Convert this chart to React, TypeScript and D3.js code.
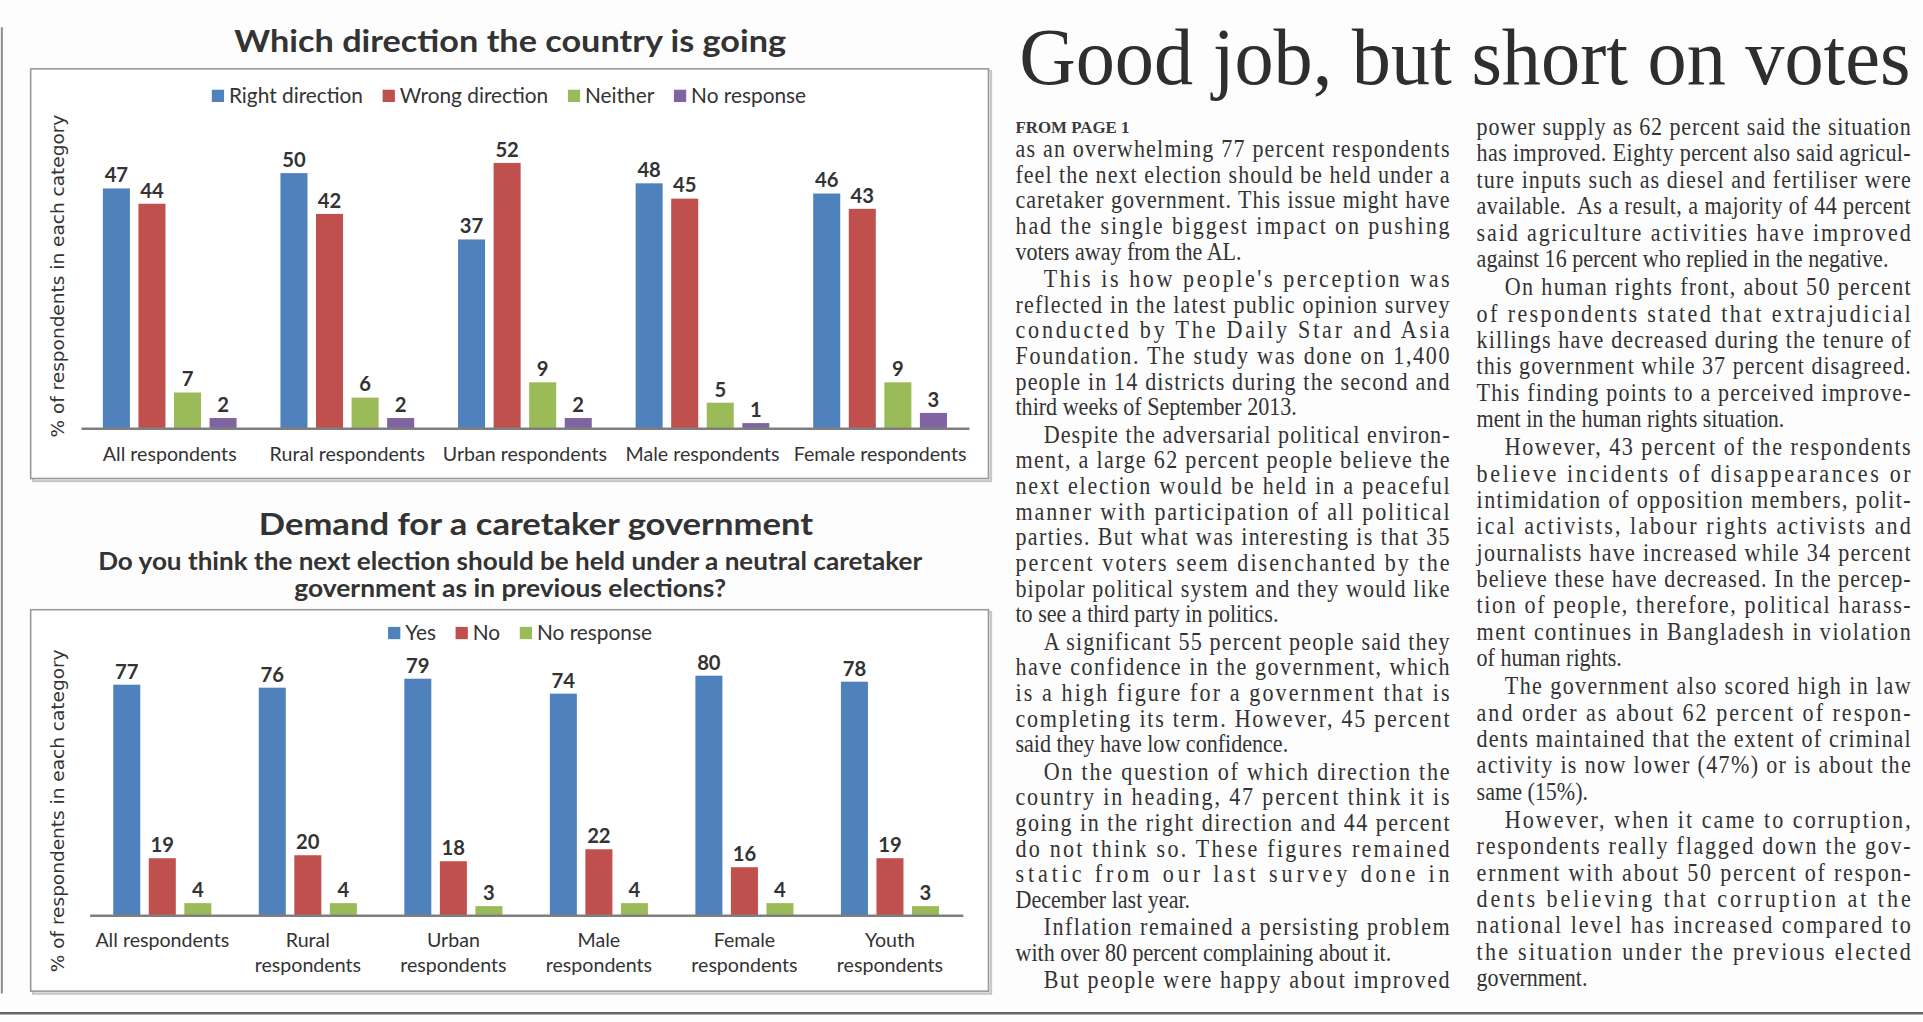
import { useEffect, useRef } from 'react';
import * as d3 from 'd3';

// ---- chart 1: which direction the country is going
const directionCategories = ['All respondents', 'Rural respondents', 'Urban respondents', 'Male respondents', 'Female respondents'];
const directionSeries = ['Right direction', 'Wrong direction', 'Neither', 'No response'];
const rightDirection = [47, 50, 37, 48, 46];
const wrongDirection = [44, 42, 52, 45, 43];
const neither = [7, 6, 9, 5, 9];
const directionNoResponse = [2, 2, 2, 1, 3];

// ---- chart 2: demand for a caretaker government
const caretakerCategories = ['All respondents', 'Rural respondents', 'Urban respondents', 'Male respondents', 'Female respondents', 'Youth respondents'];
const caretakerLabelLines = [['All respondents'], ['Rural', 'respondents'], ['Urban', 'respondents'], ['Male', 'respondents'], ['Female', 'respondents'], ['Youth', 'respondents']];
const caretakerSeries = ['Yes', 'No', 'No response'];
const yesValues = [77, 76, 79, 74, 80, 78];
const noValues = [19, 20, 18, 22, 16, 19];
const caretakerNoResponse = [4, 4, 3, 4, 4, 3];

const palette = ['#4F81BD', '#C0504D', '#9BBB59', '#8064A2'];

// ---- article text
const headline = 'Good job, but short on votes';

const column1: string[][] = [
  ['as an overwhelming 77 percent respondents', 'feel the next election should be held under a', 'caretaker government. This issue might have', 'had the single biggest impact on pushing', 'voters away from the AL.'],
  ["This is how people's perception was", 'reflected in the latest public opinion survey', 'conducted by The Daily Star and Asia', 'Foundation. The study was done on 1,400', 'people in 14 districts during the second and', 'third weeks of September 2013.'],
  ['Despite the adversarial political environ-', 'ment, a large 62 percent people believe the', 'next election would be held in a peaceful', 'manner with participation of all political', 'parties. But what was interesting is that 35', 'percent voters seem disenchanted by the', 'bipolar political system and they would like', 'to see a third party in politics.'],
  ['A significant 55 percent people said they', 'have confidence in the government, which', 'is a high figure for a government that is', 'completing its term. However, 45 percent', 'said they have low confidence.'],
  ['On the question of which direction the', 'country in heading, 47 percent think it is', 'going in the right direction and 44 percent', 'do not think so. These figures remained', 'static from our last survey done in', 'December last year.'],
  ['Inflation remained a persisting problem', 'with over 80 percent complaining about it.'],
  ['But people were happy about improved'],
];

const column2: string[][] = [
  ['power supply as 62 percent said the situation', 'has improved. Eighty percent also said agricul-', 'ture inputs such as diesel and fertiliser were', 'available.  As a result, a majority of 44 percent', 'said agriculture activities have improved', 'against 16 percent who replied in the negative.'],
  ['On human rights front, about 50 percent', 'of respondents stated that extrajudicial', 'killings have decreased during the tenure of', 'this government while 37 percent disagreed.', 'This finding points to a perceived improve-', 'ment in the human rights situation.'],
  ['However, 43 percent of the respondents', 'believe incidents of disappearances or', 'intimidation of opposition members, polit-', 'ical activists, labour rights activists and', 'journalists have increased while 34 percent', 'believe these have decreased. In the percep-', 'tion of people, therefore, political harass-', 'ment continues in Bangladesh in violation', 'of human rights.'],
  ['The government also scored high in law', 'and order as about 62 percent of respon-', 'dents maintained that the extent of criminal', 'activity is now lower (47%) or is about the', 'same (15%).'],
  ['However, when it came to corruption,', 'respondents really flagged down the gov-', 'ernment with about 50 percent of respon-', 'dents believing that corruption at the', 'national level has increased compared to', 'the situation under the previous elected', 'government.'],
];

const chartFont = 'Lato, "Open Sans", sans-serif';
const serifFont = '"Liberation Serif", "DejaVu Serif", serif';
const textColor = '#333';

type Sel = d3.Selection<SVGGElement, unknown, null, undefined>;

interface BarSpec {
  categories: string[];
  labelLines: string[][];
  series: string[];
  values: number[][];
  xRange: [number, number];
  groupPad: number;
  baseline: number;
  yMax: number;
  yTop: number;
  labelY: number;
  legendY: number;
  legendCenter: number;
  axisTitleY: number;
  box: [number, number, number, number];
}

function drawBarChart(root: Sel, spec: BarSpec) {
  const g = root.append('g');
  const [bx, by, bw, bh] = spec.box;

  g.append('rect').attr('x', bx + 2).attr('y', by + 2).attr('width', bw).attr('height', bh)
    .attr('fill', 'none').attr('stroke', '#c8c8c8').attr('stroke-width', 2);
  g.append('rect').attr('x', bx).attr('y', by).attr('width', bw).attr('height', bh)
    .attr('fill', '#fff').attr('stroke', '#9a9a9a').attr('stroke-width', 1.3);

  const x0 = d3.scaleBand<string>().domain(spec.categories).range(spec.xRange)
    .paddingInner(spec.groupPad).paddingOuter(spec.groupPad / 2);
  const x1 = d3.scaleBand<string>().domain(spec.series).range([0, x0.bandwidth()]).paddingInner(0.24);
  const y = d3.scaleLinear().domain([0, spec.yMax]).range([spec.baseline, spec.yTop]);

  const rows = spec.categories.map((c, i) => ({
    category: c,
    values: spec.series.map((s, j) => ({ key: s, value: spec.values[j][i], color: palette[j] })),
  }));

  const groups = g.selectAll('g.group').data(rows).join('g')
    .attr('class', 'group')
    .attr('transform', d => `translate(${x0(d.category)},0)`);

  groups.selectAll('rect').data(d => d.values).join('rect')
    .attr('x', d => x1(d.key)!)
    .attr('y', d => y(d.value))
    .attr('width', x1.bandwidth())
    .attr('height', d => spec.baseline - y(d.value))
    .attr('fill', d => d.color);

  groups.selectAll('text').data(d => d.values).join('text')
    .attr('x', d => x1(d.key)! + x1.bandwidth() / 2)
    .attr('y', d => y(d.value) - 5)
    .attr('text-anchor', 'middle')
    .attr('font-family', chartFont)
    .attr('font-weight', 700)
    .attr('font-size', 16.5)
    .attr('fill', textColor)
    .text(d => d.value);

  // baseline + category labels
  const axis = g.append('g')
    .attr('transform', `translate(0,${spec.baseline})`)
    .call(d3.axisBottom(x0).tickSize(0).tickSizeOuter(0));
  axis.select('.domain').attr('stroke', '#7f7f7f').attr('stroke-width', 2);
  axis.selectAll<SVGTextElement, string>('.tick text')
    .attr('font-family', chartFont)
    .attr('font-size', 16)
    .attr('fill', textColor)
    .attr('dy', null)
    .attr('y', spec.labelY - spec.baseline)
    .each(function (d) {
      const lines = spec.labelLines[spec.categories.indexOf(d)];
      const t = d3.select(this).text(null);
      lines.forEach((line, k) => {
        t.append('tspan').attr('x', 0).attr('dy', k === 0 ? 0 : 20).text(line);
      });
    });

  // y axis title
  g.append('text')
    .attr('transform', `translate(52,${spec.axisTitleY}) rotate(-90)`)
    .attr('text-anchor', 'middle')
    .attr('font-family', '"DejaVu Sans", Verdana, sans-serif')
    .attr('font-size', 15.1)
    .attr('fill', textColor)
    .text('% of respondents in each category');

  // legend
  const legend = g.append('g');
  let cursor = 0;
  spec.series.forEach((s, j) => {
    const item = legend.append('g').attr('transform', `translate(${cursor},0)`);
    item.append('rect').attr('x', 0).attr('y', spec.legendY - 5).attr('width', 10).attr('height', 10).attr('fill', palette[j]);
    const t = item.append('text').attr('x', 14).attr('y', spec.legendY).attr('dy', '0.35em')
      .attr('font-family', chartFont).attr('font-size', 17).attr('fill', textColor).text(s);
    cursor += 14 + (t.node() as SVGTextElement).getComputedTextLength() + 16;
  });
  const legendWidth = cursor - 16;
  legend.attr('transform', `translate(${spec.legendCenter - legendWidth / 2},0)`);
}

function drawColumn(root: Sel, paragraphs: string[][], opts: { x: number; width: number; y0: number; lead: number; gap: number; indentFirst: boolean; continues: boolean }) {
  const sx = 0.9;
  const col = root.append('g').attr('transform', `translate(${opts.x},0) scale(${sx},1)`);
  let y = opts.y0;
  paragraphs.forEach((para, p) => {
    if (p > 0) y += opts.gap;
    para.forEach((line, k) => {
      const indent = k === 0 && (p > 0 || opts.indentFirst) ? 23 : 0;
      const isLast = k === para.length - 1;
      const justify = !isLast || (opts.continues && p === paragraphs.length - 1);
      const t = col.append('text')
        .attr('x', indent / sx)
        .attr('y', y)
        .attr('font-family', serifFont)
        .attr('font-size', 20)
        .attr('fill', textColor)
        .attr('xml:space', 'preserve')
        .text(line);
      if (justify) t.attr('textLength', (opts.width - indent) / sx).attr('lengthAdjust', 'spacing');
      y += opts.lead;
    });
  });
}

// squeeze a single line horizontally to a target width with a transform
function fitText(root: Sel, text: string, x: number, y: number, width: number, attrs: Record<string, string | number>, anchor: 'start' | 'middle' = 'start') {
  const g = root.append('g');
  const t = g.append('text').attr('x', 0).attr('y', 0).attr('text-anchor', anchor).text(text);
  Object.entries(attrs).forEach(([k, v]) => t.attr(k, v));
  const natural = (t.node() as SVGTextElement).getComputedTextLength();
  const s = Math.min(1.2, width / natural);
  g.attr('transform', `translate(${x},${y}) scale(${s},1)`);
}

export default function App() {
  const ref = useRef<SVGSVGElement | null>(null);

  useEffect(() => {
    const svg = d3.select(ref.current);
    svg.selectAll('*').remove();
    const root = svg.append('g') as unknown as Sel;

    root.append('rect').attr('width', 1568).attr('height', 833).attr('fill', '#fdfdfd');

    // page rules
    root.append('line').attr('x1', 1.5).attr('x2', 1.5).attr('y1', 22).attr('y2', 810)
      .attr('stroke', '#8a8a8a').attr('stroke-width', 1.6);
    root.append('line').attr('x1', 0).attr('x2', 1568).attr('y1', 826).attr('y2', 826)
      .attr('stroke', '#666').attr('stroke-width', 2);

    const titleAttrs = { 'font-family': chartFont, 'font-weight': 700, 'font-size': 25, fill: textColor };
    const subAttrs = { 'font-family': chartFont, 'font-weight': 700, 'font-size': 20, fill: textColor };

    // chart 1
    fitText(root, 'Which direction the country is going', 416, 42, 450, titleAttrs, 'middle');

    drawBarChart(root, {
      categories: directionCategories,
      labelLines: directionCategories.map(c => [c]),
      series: directionSeries,
      values: [rightDirection, wrongDirection, neither, directionNoResponse],
      xRange: [66, 790],
      groupPad: 0.247,
      baseline: 349,
      yMax: 60,
      yTop: 349 - 60 * 4.16,
      labelY: 376,
      legendY: 78,
      legendCenter: 415,
      axisTitleY: 225,
      box: [25, 56, 781, 334],
    });

    // chart 2
    fitText(root, 'Demand for a caretaker government', 437, 436, 452, titleAttrs, 'middle');
    fitText(root, 'Do you think the next election should be held under a neutral caretaker', 416, 465, 672, subAttrs, 'middle');
    fitText(root, 'government as in previous elections?', 416, 487, 352, subAttrs, 'middle');

    drawBarChart(root, {
      categories: caretakerCategories,
      labelLines: caretakerLabelLines,
      series: caretakerSeries,
      values: [yesValues, noValues, caretakerNoResponse],
      xRange: [73, 785],
      groupPad: 0.326,
      baseline: 746,
      yMax: 100,
      yTop: 746 - 100 * 2.44,
      labelY: 772,
      legendY: 516,
      legendCenter: 424,
      axisTitleY: 661,
      box: [25, 497, 781, 311],
    });

    // article
    fitText(root, headline, 831, 68, 727, { 'font-family': serifFont, 'font-size': 66, fill: '#2e2e2e' });
    fitText(root, 'FROM PAGE 1', 828, 108, 93, { 'font-family': serifFont, 'font-size': 14, 'font-weight': 700, fill: '#3a3a3a' });

    drawColumn(root, column1, { x: 828, width: 354, y0: 128, lead: 20.9, gap: 1.5, indentFirst: false, continues: true });
    drawColumn(root, column2, { x: 1204, width: 354, y0: 110, lead: 21.5, gap: 1.5, indentFirst: false, continues: false });
  }, []);

  return (
    <svg
      ref={ref}
      width={1923}
      height={1022}
      viewBox="0 0 1568 833"
      style={{ position: 'absolute', left: 0, top: 0, display: 'block' }}
    />
  );
}
